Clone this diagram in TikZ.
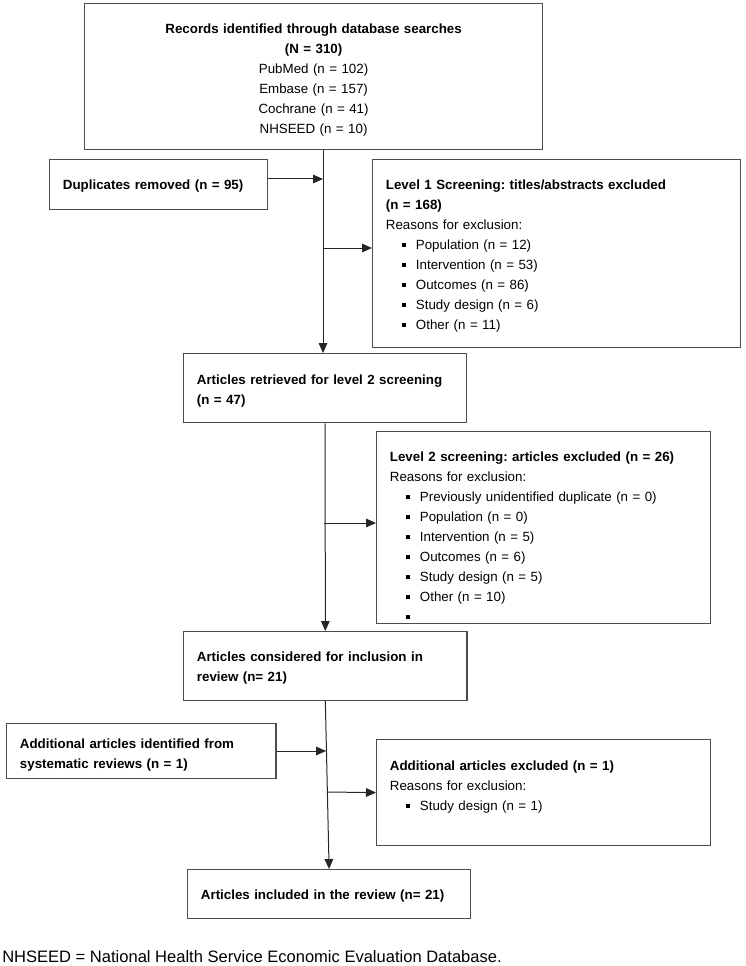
\documentclass[tikz,border=0pt]{standalone}
\usepackage{fontspec}
\setmainfont{Liberation Sans}
\usepackage{tikz}
\usetikzlibrary{arrows.meta,positioning}
\frenchspacing

\newcommand{\exitem}{\hspace*{12pt}\rule[1.3pt]{3pt}{3pt}\hspace{7.5pt}}

\begin{document}
\begin{tikzpicture}[x=0.75pt, y=-0.75pt,
  box/.style={draw=black!70, line width=0.9pt, anchor=north west, inner xsep=10pt, inner ysep=0pt, align=left, font=\fontsize{10}{15}\selectfont},
  arrow/.style={-{Triangle[length=7.5pt, width=6.5pt]}, line width=0.75pt, black!85},
]
\useasboundingbox (0,0) rectangle (745,966);

\node[box, align=center, text width=323.5pt, text height=22.1pt, text depth=87.4pt] (records) at (84,3)
  {\textbf{Records identified through database searches}\\ \textbf{(N = 310)}\\ PubMed (n = 102)\\ Embase (n = 157)\\ Cochrane (n = 41)\\ NHSEED (n = 10)};
\node[box, text width=143.5pt, text height=22.1pt, text depth=15.4pt] (dup) at (49,159)
  {\textbf{Duplicates removed (n = 95)}};
\node[box, text width=256pt, text height=22.1pt, text depth=118.9pt] (lvl1) at (372,159)
  {\textbf{Level 1 Screening: titles/abstracts excluded}\\ \textbf{(n = 168)}\\ Reasons for exclusion:\\
   \exitem Population (n = 12)\\ \exitem Intervention (n = 53)\\ \exitem Outcomes (n = 86)\\ \exitem Study design (n = 6)\\ \exitem Other (n = 11)};
\node[box, text width=192.25pt, text height=22.9pt, text depth=28.9pt] (retr) at (183,353)
  {\textbf{Articles retrieved for level 2 screening}\\ \textbf{(n = 47)}};
\node[box, text width=230.5pt, text height=22.1pt, text depth=121.9pt] (lvl2) at (376,431)
  {\textbf{Level 2 screening: articles excluded (n = 26)}\\ Reasons for exclusion:\\
   \exitem Previously unidentified duplicate (n = 0)\\ \exitem Population (n = 0)\\ \exitem Intervention (n = 5)\\
   \exitem Outcomes (n = 6)\\ \exitem Study design (n = 5)\\ \exitem Other (n = 10)\\ \exitem};
\node[box, text width=192.6pt, text height=22.1pt, text depth=29.6pt] (consid) at (183,631)
  {\textbf{Articles considered for inclusion in}\\ \textbf{review (n= 21)}};
\node[box, text width=182pt, text height=18.4pt, text depth=22.9pt] (addid) at (6,723)
  {\textbf{Additional articles identified from}\\ \textbf{systematic reviews (n = 1)}};
\node[box, text width=230.5pt, text height=22.9pt, text depth=56.6pt] (addex) at (376,739)
  {\textbf{Additional articles excluded (n = 1)}\\ Reasons for exclusion:\\ \exitem Study design (n = 1)};
\node[box, text width=192.25pt, text height=22.1pt, text depth=14.6pt] (incl) at (187,869)
  {\textbf{Articles included in the review (n= 21)}};

\node[anchor=base west, inner sep=0pt, font=\fontsize{12.4}{15}\selectfont] (note) at (2,962)
  {NHSEED = National Health Service Economic Evaluation Database.};

% joints on the main line
\coordinate (j1) at (323,179);
\coordinate (j2) at (323,248);
\coordinate (j3) at (324,523);
\coordinate (j4) at (326,751);
\coordinate (j5) at (327,792);

\draw[arrow] (records.south -| j1) -- (retr.north -| j1);
\draw[arrow] (dup.east |- j1) -- (j1);
\draw[arrow] (j2) -- (j2 -| lvl1.west);
\draw[arrow] (retr.south) -- (consid.north);
\draw[arrow] (j3) -- (j3 -| lvl2.west);
\draw[arrow] (consid.south) -- (incl.north);
\draw[arrow] (addid.east |- j4) -- (j4);
\draw[arrow] (j5) -- (addex.west);

\end{tikzpicture}
\end{document}
